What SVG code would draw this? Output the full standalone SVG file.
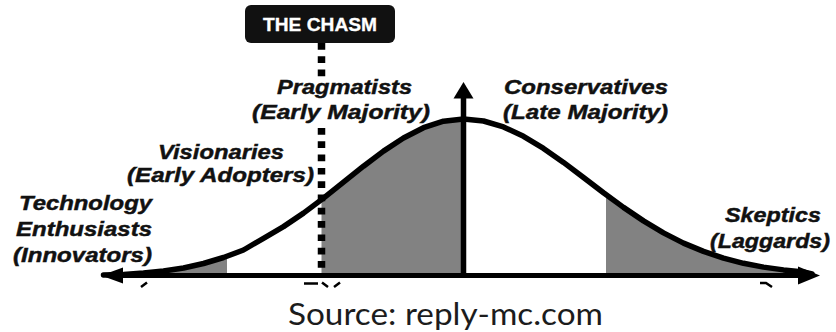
<svg xmlns="http://www.w3.org/2000/svg" width="836" height="332" viewBox="0 0 836 332">
  <style>
    .lbl { font-family: "Liberation Sans", Arial, sans-serif; font-weight: bold; font-style: italic; font-size: 20.5px; fill: #111; stroke: #111; stroke-width: 0.45px; }
    .tag { font-family: "Liberation Sans", Arial, sans-serif; font-weight: bold; font-size: 17.5px; fill: #fff; stroke: #fff; stroke-width: 0.3px; }
    .src { font-family: Lato, "Noto Sans", sans-serif; font-size: 31px; fill: #1c1c1c; }
    .shade { fill: #828282; }
    .curve { fill: none; stroke: #000; stroke-width: 5.5; stroke-linejoin: round; stroke-linecap: round; }
    .axis { fill: none; stroke: #000; stroke-width: 5; }
    .chasm { fill: none; stroke: #000; stroke-width: 7.5; stroke-dasharray: 6.7 6.6; }
    .ink { fill: #000; }
  </style>

  <rect width="836" height="332" fill="#fff"/>

  <!-- shaded adopter segments under the bell curve -->
  <g id="segments">
    <path class="shade" d="M150,275.5 L163.5,271 L183.5,268 L203.5,263.5 L223.5,257.5 L227,256.2 L227,275.5 Z"/>
    <path class="shade" d="M321.5,275.5 L321.5,199.6 L323.5,198.1 L343.5,182.2 L363.5,166.2 L383.5,151.1 L403.5,138 L423.5,127.7 L443.5,121.2 L463.5,119 L463.5,275.5 Z"/>
    <path class="shade" d="M606,275.5 L606,194.6 L623.5,207.4 L643.5,220.9 L663.5,232.9 L683.5,243.1 L703.5,251.4 L723.5,258.1 L743.5,263.3 L763.5,267.1 L783.5,269.9 L803.5,271.9 L812,275.5 Z"/>
  </g>

  <!-- adoption bell curve -->
  <g id="bell-curve">
    <path class="curve" d="M103.5,275 L123.5,274.5 L143.5,273 L163.5,271 L183.5,268 L203.5,263.5 L223.5,257.5 L243.5,250 L263.5,238.3 L283.5,226.6 L303.5,213.1 L323.5,198.1 L343.5,182.2 L363.5,166.2 L383.5,151.1 L403.5,138 L423.5,127.7 L443.5,121.2 L463.5,119 L483.5,121 L503.5,126.9 L523.5,136.3 L543.5,148.4 L563.5,162.4 L583.5,177.5 L603.5,192.8 L623.5,207.4 L643.5,220.9 L663.5,232.9 L683.5,243.1 L703.5,251.4 L723.5,258.1 L743.5,263.3 L763.5,267.1 L783.5,269.9 L803.5,271.9 L812,274"/>
  </g>

  <!-- axes and the chasm marker line -->
  <g id="connectors">
    <line class="axis" x1="118" y1="275.5" x2="802" y2="275.5"/>
    <polygon class="ink" points="101,275.5 123,267.5 123,283.5"/>
    <polygon class="ink" points="820,275.5 798,266.5 798,284.5"/>
    <line x1="463.5" y1="96" x2="463.5" y2="276" stroke="#000" stroke-width="5.5"/>
    <polygon class="ink" points="463.5,82 453.5,98.5 473.5,98.5"/>
    <line class="chasm" x1="321.5" y1="43" x2="321.5" y2="77"/>
    <line class="chasm" x1="321.5" y1="128" x2="321.5" y2="278"/>
    <!-- clipped arrow fragments just under the axis -->
    <path d="M141,287 L147,282.5" stroke="#000" stroke-width="2.5" fill="none"/>
    <path d="M304,283.5 L318,283.5 M322,282.5 L328,287 M334,287 L340,282.5" stroke="#000" stroke-width="2.5" fill="none"/>
    <path d="M760,283 L766,283 L772,287" stroke="#000" stroke-width="2.5" fill="none"/>
  </g>

  <g id="the-chasm">
    <rect x="245" y="5" width="150" height="38" rx="6" fill="#111"/>
    <text class="tag" x="263" y="30.5" textLength="114" lengthAdjust="spacingAndGlyphs">THE CHASM</text>
  </g>

  <g id="innovators">
    <text class="lbl" x="19" y="210" textLength="133" lengthAdjust="spacingAndGlyphs">Technology</text>
    <text class="lbl" x="16" y="236" textLength="136" lengthAdjust="spacingAndGlyphs">Enthusiasts</text>
    <text class="lbl" x="13" y="262" textLength="139" lengthAdjust="spacingAndGlyphs">(Innovators)</text>
  </g>

  <g id="early-adopters">
    <text class="lbl" x="158" y="159" textLength="126" lengthAdjust="spacingAndGlyphs">Visionaries</text>
    <text class="lbl" x="127" y="182" textLength="187" lengthAdjust="spacingAndGlyphs">(Early Adopters)</text>
  </g>

  <g id="early-majority">
    <text class="lbl" x="277" y="94" textLength="135" lengthAdjust="spacingAndGlyphs">Pragmatists</text>
    <text class="lbl" x="252" y="118.5" textLength="178" lengthAdjust="spacingAndGlyphs">(Early Majority)</text>
  </g>

  <g id="late-majority">
    <text class="lbl" x="504" y="93.5" textLength="164" lengthAdjust="spacingAndGlyphs">Conservatives</text>
    <text class="lbl" x="503" y="119" textLength="165" lengthAdjust="spacingAndGlyphs">(Late Majority)</text>
  </g>

  <g id="laggards">
    <text class="lbl" x="725" y="222" textLength="96" lengthAdjust="spacingAndGlyphs">Skeptics</text>
    <text class="lbl" x="710" y="248" textLength="120" lengthAdjust="spacingAndGlyphs">(Laggards)</text>
  </g>

  <text class="src" x="288" y="325" textLength="315" lengthAdjust="spacingAndGlyphs">Source: reply-mc.com</text>
</svg>
